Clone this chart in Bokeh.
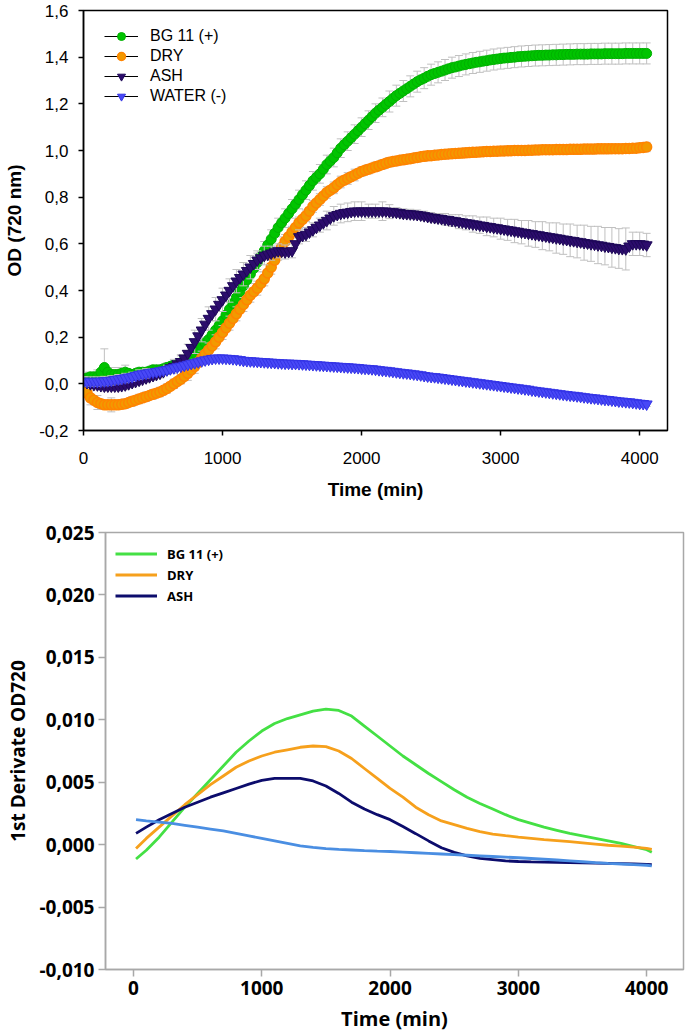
from bokeh.plotting import figure
from bokeh.models import (ColumnDataSource, FixedTicker, CustomJSTickFormatter, Legend,
                          LegendItem, Range1d)
from bokeh.embed import file_html
from bokeh.resources import INLINE

# ---------------- data: growth curves (OD 720 nm), read every 25 min ----------------
time_min = list(range(0, 4051, 25))

od_bg11 = [0.02, 0.025, 0.03, 0.03, 0.03, 0.05, 0.07, 0.05, 0.04, 0.04,
           0.04, 0.045, 0.05, 0.045, 0.04, 0.045, 0.05, 0.05, 0.05, 0.055,
           0.06, 0.06, 0.06, 0.065, 0.07, 0.075, 0.08, 0.085, 0.09, 0.10,
           0.11, 0.12, 0.13, 0.145, 0.16, 0.175, 0.19, 0.21, 0.23, 0.25,
           0.27, 0.295, 0.32, 0.345, 0.37, 0.395, 0.42, 0.445, 0.47, 0.495,
           0.52, 0.545, 0.57, 0.595, 0.62, 0.645, 0.67, 0.69, 0.71, 0.73,
           0.75, 0.77, 0.79, 0.81, 0.83, 0.85, 0.87, 0.885, 0.90, 0.92,
           0.94, 0.955, 0.97, 0.99, 1.01, 1.025, 1.04, 1.055, 1.07, 1.085,
           1.10, 1.115, 1.13, 1.145, 1.16, 1.173, 1.185, 1.198, 1.21, 1.223,
           1.235, 1.245, 1.255, 1.265, 1.275, 1.285, 1.295, 1.303, 1.31, 1.318,
           1.325, 1.33, 1.335, 1.34, 1.345, 1.35, 1.355, 1.358, 1.362, 1.366,
           1.369, 1.372, 1.375, 1.378, 1.38, 1.383, 1.385, 1.388, 1.39, 1.392,
           1.394, 1.396, 1.397, 1.399, 1.40, 1.402, 1.403, 1.404, 1.405, 1.406,
           1.407, 1.408, 1.408, 1.409, 1.409, 1.41, 1.41, 1.411, 1.411, 1.412,
           1.412, 1.412, 1.413, 1.413, 1.413, 1.413, 1.414, 1.414, 1.414, 1.414,
           1.415, 1.415, 1.415, 1.415, 1.415, 1.415, 1.416, 1.416, 1.416, 1.416,
           1.416, 1.416, 1.416]

od_dry = [-0.01, -0.04, -0.06, -0.07, -0.08, -0.085, -0.09, -0.09, -0.09, -0.09,
          -0.09, -0.088, -0.085, -0.08, -0.075, -0.07, -0.065, -0.06, -0.055, -0.05,
          -0.045, -0.04, -0.035, -0.028, -0.02, -0.01, 0.0, 0.01, 0.02, 0.032,
          0.045, 0.06, 0.075, 0.092, 0.11, 0.128, 0.145, 0.162, 0.18, 0.20,
          0.22, 0.24, 0.26, 0.28, 0.30, 0.32, 0.34, 0.36, 0.38, 0.395,
          0.41, 0.43, 0.45, 0.475, 0.50, 0.53, 0.56, 0.585, 0.61, 0.63,
          0.65, 0.67, 0.69, 0.705, 0.72, 0.74, 0.76, 0.775, 0.79, 0.805,
          0.82, 0.83, 0.84, 0.853, 0.865, 0.873, 0.88, 0.888, 0.895, 0.903,
          0.91, 0.915, 0.92, 0.925, 0.93, 0.935, 0.94, 0.945, 0.95, 0.953,
          0.955, 0.958, 0.96, 0.963, 0.965, 0.968, 0.97, 0.973, 0.975, 0.977,
          0.978, 0.98, 0.981, 0.983, 0.984, 0.985, 0.986, 0.987, 0.988, 0.989,
          0.99, 0.991, 0.992, 0.993, 0.994, 0.995, 0.996, 0.996, 0.997, 0.997,
          0.998, 0.998, 0.999, 0.999, 1.0, 1.0, 1.0, 1.0, 1.001, 1.001,
          1.002, 1.002, 1.003, 1.003, 1.003, 1.003, 1.004, 1.004, 1.004, 1.004,
          1.005, 1.005, 1.005, 1.005, 1.006, 1.006, 1.006, 1.006, 1.007, 1.007,
          1.007, 1.007, 1.008, 1.008, 1.008, 1.008, 1.009, 1.009, 1.01, 1.01,
          1.012, 1.013, 1.015]

od_ash = [0.01, 0.005, 0.0, -0.003, -0.005, -0.008, -0.01, -0.01, -0.01, -0.01,
          -0.01, -0.008, -0.005, 0.0, 0.005, 0.01, 0.015, 0.02, 0.025, 0.03,
          0.035, 0.04, 0.045, 0.052, 0.06, 0.068, 0.075, 0.085, 0.095, 0.11,
          0.13, 0.155, 0.18, 0.205, 0.23, 0.255, 0.28, 0.30, 0.32, 0.34,
          0.36, 0.38, 0.40, 0.42, 0.44, 0.455, 0.47, 0.485, 0.50, 0.515,
          0.53, 0.54, 0.55, 0.555, 0.56, 0.565, 0.57, 0.568, 0.565, 0.567,
          0.57, 0.60, 0.63, 0.635, 0.64, 0.65, 0.66, 0.67, 0.68, 0.69,
          0.70, 0.71, 0.72, 0.725, 0.73, 0.733, 0.735, 0.738, 0.74, 0.74,
          0.74, 0.74, 0.74, 0.74, 0.74, 0.74, 0.74, 0.74, 0.738, 0.737,
          0.735, 0.733, 0.73, 0.729, 0.728, 0.727, 0.725, 0.723, 0.72, 0.717,
          0.714, 0.712, 0.71, 0.708, 0.705, 0.703, 0.70, 0.698, 0.695, 0.693,
          0.69, 0.688, 0.685, 0.683, 0.68, 0.678, 0.675, 0.673, 0.67, 0.668,
          0.665, 0.663, 0.66, 0.658, 0.655, 0.653, 0.65, 0.648, 0.645, 0.643,
          0.64, 0.638, 0.635, 0.633, 0.63, 0.628, 0.625, 0.623, 0.62, 0.618,
          0.615, 0.613, 0.61, 0.608, 0.605, 0.603, 0.60, 0.598, 0.595, 0.593,
          0.59, 0.588, 0.585, 0.583, 0.58, 0.579, 0.578, 0.59, 0.60, 0.60,
          0.60, 0.598, 0.595]

od_water = [0.01, 0.01, 0.01, 0.01, 0.01, 0.011, 0.012, 0.013, 0.015, 0.018,
            0.02, 0.022, 0.025, 0.028, 0.03, 0.035, 0.04, 0.042, 0.045, 0.048,
            0.05, 0.052, 0.055, 0.058, 0.06, 0.064, 0.068, 0.072, 0.075, 0.079,
            0.083, 0.087, 0.09, 0.094, 0.098, 0.102, 0.105, 0.108, 0.11, 0.11,
            0.11, 0.109, 0.108, 0.107, 0.105, 0.103, 0.10, 0.099, 0.098, 0.097,
            0.096, 0.095, 0.094, 0.093, 0.092, 0.091, 0.09, 0.089, 0.088, 0.088,
            0.087, 0.087, 0.086, 0.085, 0.084, 0.083, 0.082, 0.081, 0.08, 0.079,
            0.078, 0.077, 0.076, 0.075, 0.074, 0.073, 0.072, 0.071, 0.07, 0.069,
            0.067, 0.066, 0.065, 0.064, 0.062, 0.06, 0.058, 0.057, 0.055, 0.053,
            0.051, 0.049, 0.047, 0.046, 0.044, 0.042, 0.04, 0.038, 0.035, 0.033,
            0.031, 0.03, 0.028, 0.026, 0.024, 0.022, 0.02, 0.018, 0.016, 0.014,
            0.012, 0.01, 0.008, 0.006, 0.004, 0.002, 0.0, -0.002, -0.004, -0.006,
            -0.008, -0.01, -0.012, -0.014, -0.016, -0.018, -0.02, -0.022, -0.024, -0.027,
            -0.029, -0.031, -0.033, -0.035, -0.037, -0.039, -0.041, -0.043, -0.045, -0.047,
            -0.049, -0.05, -0.052, -0.054, -0.056, -0.058, -0.06, -0.061, -0.063, -0.065,
            -0.067, -0.068, -0.07, -0.072, -0.074, -0.075, -0.077, -0.078, -0.08, -0.082,
            -0.084, -0.085, -0.087]

# standard deviations, read every 50 min
err_time = list(range(0, 4051, 50))
err_bg11 = [0.03, 0.02, 0.03, 0.08, 0.03, 0.03, 0.03, 0.02, 0.02, 0.02,
            0.02, 0.02, 0.02, 0.02, 0.03, 0.03, 0.03, 0.04, 0.04, 0.04,
            0.04, 0.04, 0.04, 0.04, 0.04, 0.04, 0.04, 0.04, 0.04, 0.04,
            0.04, 0.04, 0.04, 0.04, 0.04, 0.04, 0.04, 0.04, 0.04, 0.04,
            0.04, 0.04, 0.04, 0.04, 0.045, 0.045, 0.045, 0.045, 0.045, 0.045,
            0.045, 0.045, 0.045, 0.045, 0.045, 0.045, 0.045, 0.045, 0.045, 0.045,
            0.045, 0.045, 0.045, 0.045, 0.045, 0.045, 0.045, 0.045, 0.045, 0.045,
            0.045, 0.045, 0.045, 0.045, 0.045, 0.045, 0.045, 0.045, 0.045, 0.045,
            0.045, 0.045]
err_dry = [0.02, 0.03, 0.03, 0.02, 0.03, 0.02, 0.02, 0.02, 0.02, 0.02,
           0.02, 0.02, 0.02, 0.02, 0.02, 0.03, 0.03, 0.03, 0.03, 0.03,
           0.03, 0.03, 0.03, 0.03, 0.03, 0.03, 0.03, 0.03, 0.03, 0.03,
           0.025, 0.025, 0.025, 0.025, 0.025, 0.025, 0.025, 0.025, 0.025, 0.025,
           0.02, 0.02, 0.02, 0.02, 0.02, 0.02, 0.02, 0.02, 0.02, 0.02,
           0.02, 0.02, 0.02, 0.02, 0.02, 0.02, 0.02, 0.02, 0.02, 0.02,
           0.02, 0.02, 0.02, 0.02, 0.02, 0.02, 0.02, 0.02, 0.02, 0.02,
           0.02, 0.02, 0.02, 0.02, 0.02, 0.02, 0.02, 0.02, 0.02, 0.02,
           0.02, 0.02]
err_ash = [0.02, 0.02, 0.02, 0.02, 0.02, 0.02, 0.02, 0.02, 0.02, 0.02,
           0.02, 0.02, 0.02, 0.03, 0.03, 0.04, 0.05, 0.05, 0.05, 0.05,
           0.05, 0.05, 0.05, 0.05, 0.05, 0.04, 0.04, 0.03, 0.03, 0.03,
           0.03, 0.03, 0.03, 0.03, 0.03, 0.04, 0.04, 0.04, 0.04, 0.04,
           0.04, 0.03, 0.03, 0.04, 0.03, 0.02, 0.02, 0.02, 0.02, 0.02,
           0.02, 0.02, 0.025, 0.025, 0.03, 0.03, 0.035, 0.035, 0.04, 0.04,
           0.045, 0.045, 0.05, 0.05, 0.055, 0.055, 0.06, 0.06, 0.065, 0.065,
           0.07, 0.07, 0.075, 0.075, 0.08, 0.08, 0.085, 0.085, 0.09, 0.05,
           0.05, 0.05]
err_water = [0.02, 0.02, 0.02, 0.02, 0.02, 0.02, 0.02, 0.02, 0.02, 0.02,
             0.01, 0.01, 0.01, 0.01, 0.01, 0.01, 0.01, 0.01, 0.01, 0.01,
             0.01, 0.01, 0.01, 0.01, 0.01, 0.01, 0.01, 0.01, 0.01, 0.01,
             0.01, 0.01, 0.01, 0.01, 0.01, 0.01, 0.01, 0.01, 0.01, 0.01,
             0.01, 0.01, 0.01, 0.01, 0.01, 0.01, 0.01, 0.01, 0.01, 0.01,
             0.01, 0.01, 0.01, 0.01, 0.01, 0.01, 0.01, 0.01, 0.01, 0.01,
             0.01, 0.01, 0.01, 0.01, 0.01, 0.01, 0.01, 0.01, 0.01, 0.01,
             0.01, 0.01, 0.01, 0.01, 0.01, 0.01, 0.01, 0.01, 0.01, 0.01,
             0.01, 0.01]

od_labels = ["BG 11 (+)", "DRY", "ASH", "WATER (-)"]
od_yticks = [-0.2, 0.0, 0.2, 0.4, 0.6, 0.8, 1.0, 1.2, 1.4, 1.6]
time_ticks = [0, 1000, 2000, 3000, 4000]

# ---------------- data: first derivative ----------------
deriv_time = [20, 100, 200, 300, 400, 500, 600, 700, 800, 900, 1000,
              1100, 1200, 1300, 1400, 1500, 1600, 1700, 1800, 1900, 2000,
              2100, 2200, 2300, 2400, 2500, 2600, 2700, 2800, 2900, 3000,
              3100, 3200, 3300, 3400, 3500, 3600, 3700, 3800, 3900, 4000, 4040]
d_bg11 = [-0.00115, -0.00045, 0.0006, 0.0018, 0.0030, 0.0041, 0.0052, 0.0063, 0.0074, 0.0083, 0.0091,
          0.0097, 0.0101, 0.0104, 0.0107, 0.01085, 0.01075, 0.0103, 0.0095, 0.0087, 0.0079,
          0.0071, 0.0064, 0.0057, 0.00505, 0.0044, 0.0038, 0.0033, 0.00285, 0.0024, 0.0020,
          0.0017, 0.0014, 0.00115, 0.0009, 0.0007, 0.0005, 0.0003, 0.0001, -0.00015, -0.0004, -0.0006]
d_dry = [-0.0003, 0.0005, 0.0014, 0.0023, 0.0032, 0.0040, 0.0048, 0.0055, 0.0062, 0.0067, 0.0071,
         0.0074, 0.0076, 0.0078, 0.0079, 0.00785, 0.0075, 0.0069, 0.0061, 0.0053, 0.0045,
         0.0038, 0.0030, 0.0024, 0.0019, 0.0016, 0.0013, 0.00105, 0.00085, 0.00072, 0.0006,
         0.0005, 0.0004, 0.00032, 0.00024, 0.00015, 0.00005, -0.00005, -0.00012, -0.0002, -0.0003, -0.00037]
d_ash = [0.0009, 0.0014, 0.0020, 0.0025, 0.0030, 0.0034, 0.0038, 0.00415, 0.0045, 0.00485, 0.00515,
         0.0053, 0.0053, 0.0053, 0.0051, 0.0047, 0.0041, 0.0034, 0.00285, 0.0024, 0.0020,
         0.00145, 0.00088, 0.0003, -0.00025, -0.00062, -0.0009, -0.0011, -0.0012, -0.0013, -0.00135,
         -0.00138, -0.0014, -0.00142, -0.00144, -0.00146, -0.00148, -0.0015, -0.00152, -0.00155, -0.00158, -0.0016]
d_water = [0.0020, 0.0019, 0.0018, 0.0017, 0.00155, 0.0014, 0.00125, 0.0011, 0.0009, 0.0007, 0.0005,
           0.0003, 0.0001, -0.0001, -0.00022, -0.00032, -0.00038, -0.00043, -0.00048, -0.00052, -0.00055,
           -0.0006, -0.00065, -0.0007, -0.00075, -0.0008, -0.00085, -0.0009, -0.00095, -0.001, -0.00105,
           -0.00111, -0.00117, -0.00123, -0.0013, -0.00137, -0.00144, -0.0015, -0.00155, -0.0016, -0.00165, -0.0017]
deriv_labels = ["BG 11 (+)", "DRY", "ASH"]
deriv_yticks = [-0.010, -0.005, 0.0, 0.005, 0.010, 0.015, 0.020, 0.025]

# ---------------- top chart ----------------
ARIAL = "Liberation Sans"
GREY = "#C0C0C0"

p1 = figure(width=685, height=505, x_range=Range1d(0, 4200), y_range=Range1d(-0.2, 1.6),
            output_backend="svg", toolbar_location=None,
            min_border_left=83, min_border_right=18, min_border_top=10, min_border_bottom=75)
p1.grid.visible = False
p1.outline_line_color = "black"
p1.outline_line_width = 1.5

for ax in (p1.xaxis[0], p1.yaxis[0]):
    ax.axis_line_color = "black"
    ax.axis_line_width = 1.5
    ax.major_tick_line_color = "black"
    ax.major_tick_line_width = 1.5
    ax.major_tick_out = 5
    ax.major_tick_in = 0
    ax.minor_tick_out = 0
    ax.minor_tick_in = 0
    ax.major_label_text_font = ARIAL
    ax.major_label_text_font_size = "17px"
    ax.major_label_text_color = "black"
    ax.axis_label_text_font = ARIAL
    ax.axis_label_text_font_size = "19px"
    ax.axis_label_text_font_style = "bold"
    ax.axis_label_text_color = "black"

p1.xaxis.ticker = FixedTicker(ticks=time_ticks, minor_ticks=[])
p1.yaxis.ticker = FixedTicker(ticks=od_yticks, minor_ticks=[])
p1.yaxis.formatter = CustomJSTickFormatter(code="return tick.toFixed(1).replace('.', ',');")
p1.xaxis.axis_label = "Time (min)"
p1.yaxis.axis_label = "OD (720 nm)"
p1.xaxis.major_label_standoff = 16
p1.xaxis.axis_label_standoff = 12
p1.yaxis.major_label_standoff = 10
p1.yaxis.axis_label_standoff = 11

styles = [
    (od_bg11, err_bg11, "circle", 10, "#00C400", "#00B000", 1),
    (od_dry, err_dry, "circle", 10, "#F29A00", "#FF8400", 1.5),
    (od_ash, err_ash, "inverted_triangle", 11, "#2C0C6C", "#1E0858", 1),
    (od_water, err_water, "inverted_triangle", 11, "#4848F6", "#3434E6", 1),
]

items = []
for label, (yv, ev, marker, size, fill, line, lw) in zip(od_labels, styles):
    ybase = yv[::2]
    lo = [a - b for a, b in zip(ybase, ev)]
    hi = [a + b for a, b in zip(ybase, ev)]
    esrc = ColumnDataSource(dict(t=err_time, lo=lo, hi=hi))
    src = ColumnDataSource(dict(t=time_min, y=yv))
    p1.segment(x0="t", y0="lo", x1="t", y1="hi", source=esrc, line_color=GREY, line_width=1)
    p1.scatter(x="t", y="hi", marker="dash", size=8, line_color=GREY, line_width=1, source=esrc)
    p1.scatter(x="t", y="lo", marker="dash", size=8, line_color=GREY, line_width=1, source=esrc)
    ln = p1.line(x="t", y="y", source=src, line_color="black", line_width=1)
    sc = p1.scatter(x="t", y="y", marker=marker, size=size, fill_color=fill,
                    line_color=line, line_width=lw, source=src)
    items.append(LegendItem(label=label, renderers=[ln, sc]))

leg1 = Legend(items=items, location=(16, 319), padding=5, margin=0, spacing=0,
              glyph_width=34, glyph_height=20, label_height=20, label_standoff=12,
              label_text_font=ARIAL, label_text_font_size="16px", label_text_color="black",
              border_line_alpha=0, background_fill_alpha=0)
p1.add_layout(leg1)

# ---------------- bottom chart ----------------
SANS = "Open Sans"
AXGREY = "#A8A8A8"

p2 = figure(width=685, height=529, x_range=Range1d(-218, 4287), y_range=Range1d(-0.010, 0.025),
            output_backend="svg", toolbar_location=None,
            min_border_left=105, min_border_right=2, min_border_top=27, min_border_bottom=63)
p2.grid.visible = False
p2.outline_line_color = AXGREY
p2.outline_line_width = 1.5

for ax in (p2.xaxis[0], p2.yaxis[0]):
    ax.axis_line_color = AXGREY
    ax.axis_line_width = 1.5
    ax.major_tick_line_color = AXGREY
    ax.major_tick_line_width = 1.5
    ax.major_tick_out = 7
    ax.major_tick_in = 0
    ax.minor_tick_out = 0
    ax.minor_tick_in = 0
    ax.major_label_text_font = SANS
    ax.major_label_text_font_size = "19px"
    ax.major_label_text_font_style = "bold"
    ax.major_label_text_color = "black"
    ax.axis_label_text_font = SANS
    ax.axis_label_text_font_style = "bold"
    ax.axis_label_text_color = "black"

p2.xaxis.ticker = FixedTicker(ticks=time_ticks, minor_ticks=[])
p2.yaxis.ticker = FixedTicker(ticks=deriv_yticks, minor_ticks=[])
p2.yaxis.formatter = CustomJSTickFormatter(code="return tick.toFixed(3).replace('.', ',');")
p2.xaxis.axis_label = "Time (min)"
p2.yaxis.axis_label = "1st Derivate OD720"
p2.xaxis.axis_label_text_font_size = "20px"
p2.yaxis.axis_label_text_font_size = "19px"
p2.xaxis.major_label_standoff = 4
p2.xaxis.axis_label_standoff = 7
p2.yaxis.major_label_standoff = 4
p2.yaxis.axis_label_standoff = 6

r_g = p2.line(deriv_time, d_bg11, line_color="#44E044", line_width=2.8)
r_o = p2.line(deriv_time, d_dry, line_color="#F6A01C", line_width=2.8)
r_n = p2.line(deriv_time, d_ash, line_color="#0C0C6C", line_width=2.8)
r_b = p2.line(deriv_time, d_water, line_color="#4A8EE2", line_width=2.8)

leg2 = Legend(items=[LegendItem(label=deriv_labels[0], renderers=[r_g]),
                     LegendItem(label=deriv_labels[1], renderers=[r_o]),
                     LegendItem(label=deriv_labels[2], renderers=[r_n])],
              location=(5, 358), padding=5, margin=0, spacing=0,
              glyph_width=42, glyph_height=21, label_height=21, label_standoff=10,
              label_text_font=SANS, label_text_font_size="13px", label_text_font_style="bold",
              label_text_color="black", border_line_alpha=0, background_fill_alpha=0)
p2.add_layout(leg2)

open("out.html", "w").write(file_html([p1, p2], INLINE))
